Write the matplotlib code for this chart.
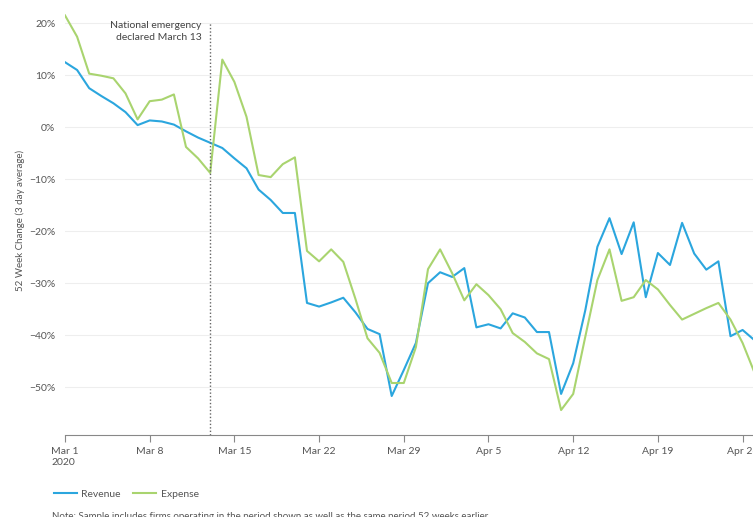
import pandas as pd
import matplotlib
matplotlib.use('Agg')
import matplotlib.pyplot as plt
from matplotlib.lines import Line2D

plt.rcParams['font.family'] = ['Lato', 'DejaVu Sans']

# данные: изменение за 52 недели, %
dates = pd.date_range('2020-03-01', periods=58, freq='D')
revenue = [12.5, 11.0, 7.5, 6.0, 4.6, 2.9, 0.4, 1.3, 1.1, 0.5,
           -0.8, -2.0, -3.0, -4.0, -6.0, -7.9, -12.0, -14.0, -16.5, -16.5,
           -33.8, -34.5, -33.7, -32.8, -35.6, -38.8, -39.8, -51.7, -46.7, -41.5,
           -30.0, -27.9, -28.8, -27.1, -38.5, -37.9, -38.7, -35.8, -36.6, -39.4,
           -39.4, -51.3, -45.4, -35.2, -23.0, -17.5, -24.4, -18.3, -32.7, -24.2,
           -26.5, -18.4, -24.3, -27.4, -25.8, -40.2, -39.0, -41.0]
expense = [21.5, 17.4, 10.3, 9.9, 9.4, 6.5, 1.5, 5.0, 5.3, 6.3,
           -3.8, -6.0, -8.8, 13.0, 8.7, 2.0, -9.2, -9.6, -7.1, -5.8,
           -23.8, -25.8, -23.5, -25.9, -33.0, -40.6, -43.4, -49.2, -49.2, -42.3,
           -27.3, -23.5, -28.1, -33.3, -30.2, -32.3, -35.0, -39.6, -41.3, -43.5,
           -44.6, -54.4, -51.3, -40.3, -29.4, -23.5, -33.4, -32.7, -29.4, -31.2,
           -34.2, -37.0, -35.9, -34.8, -33.8, -37.0, -41.5, -47.3]
yticks = [20, 10, 0, -10, -20, -30, -40, -50]
xtick_dates = pd.date_range('2020-03-01', periods=9, freq='7D')
xtick_labels = ['Mar 1\n2020', 'Mar 8', 'Mar 15', 'Mar 22', 'Mar 29',
                'Apr 5', 'Apr 12', 'Apr 19', 'Apr 26']
emergency = pd.Timestamp('2020-03-13')

blue = '#2ba6de'
green = '#a9d46f'
grey = '#555555'

W, H = 753, 517
fig = plt.figure(figsize=(W / 100, H / 100), dpi=100)
ax = fig.add_axes([65 / W, 82 / H, (W - 65) / W, 430 / H])

ax.plot(dates, revenue, color=blue, lw=1.5, label='Revenue')
ax.plot(dates, expense, color=green, lw=1.5, label='Expense')

ax.axvline(emergency, ymin=0, ymax=0.96, color='#666666', lw=1.0,
           ls=(0, (1, 1.5)))
ax.text(emergency - pd.Timedelta(days=0.7), 18.4,
        'National emergency\ndeclared March 13', ha='right', va='center',
        fontsize=7.5, color='#444444', linespacing=1.35)

ax.set_ylim(-59.2, 23.5)
ax.set_xlim(dates[0], dates[0] + pd.Timedelta(days=56.86))

ax.set_yticks(yticks)
ax.set_yticklabels(['%d%%' % v if v >= 0 else '\u2212%d%%' % -v for v in yticks])
ax.set_xticks(xtick_dates)
ax.set_xticklabels(xtick_labels, ha='center', multialignment='left')

ax.grid(axis='y', color='#eeeeee', lw=0.8)
ax.set_axisbelow(True)
for s in ['top', 'right', 'left']:
    ax.spines[s].set_visible(False)
ax.spines['bottom'].set_color('#888888')
ax.tick_params(axis='y', length=0, pad=7, labelsize=7.5, labelcolor=grey)
ax.tick_params(axis='x', length=5, width=0.8, color='#888888', pad=4,
               labelsize=7.5, labelcolor=grey)

ax.set_ylabel('52 Week Change (3 day average)', fontsize=7, color=grey,
              labelpad=3)

handles = [Line2D([], [], color=blue, lw=1.5), Line2D([], [], color=green, lw=1.5)]
fig.legend(handles, ['Revenue', 'Expense'], loc='center left',
           bbox_to_anchor=(45 / W, 1 - 494 / H), ncol=2, frameon=False,
           fontsize=7.5, handlelength=2.2, handletextpad=0.4,
           columnspacing=1.2, labelcolor=grey)

fig.text(52 / W, 1 - 512 / H,
         'Note: Sample includes firms operating in the period shown as well as the same period 52 weeks earlier.',
         fontsize=7, color=grey, va='top')

fig.savefig('out.png', dpi=100)
